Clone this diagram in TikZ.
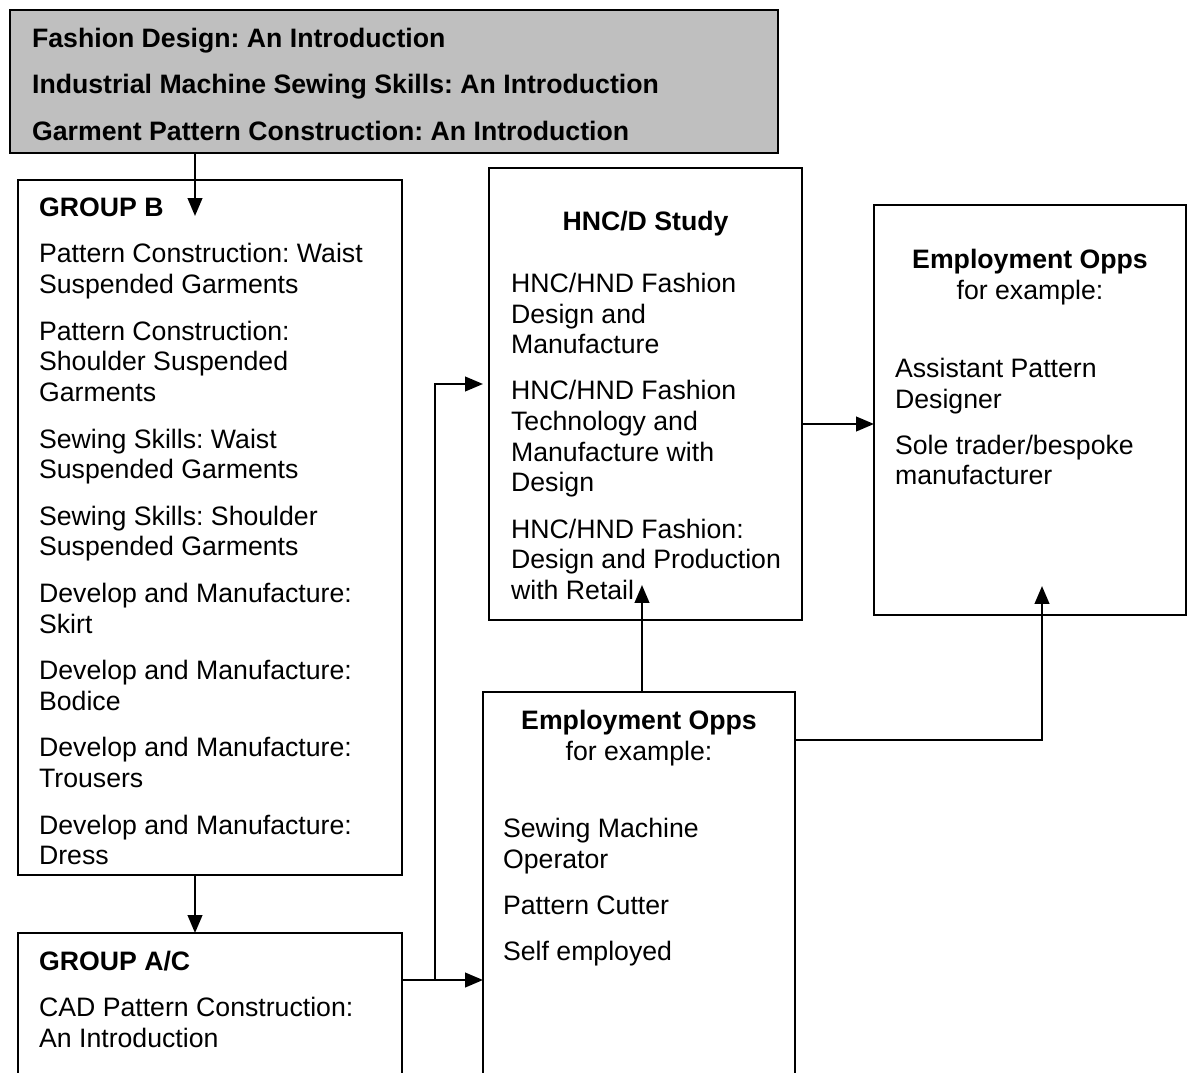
\documentclass[tikz,border=0pt]{standalone}
\usepackage{fontspec}
\setmainfont{Liberation Sans}
\usetikzlibrary{arrows.meta,calc}
\frenchspacing

\begin{document}
\begin{tikzpicture}[x=0.45pt, y=-0.45pt, >={Triangle[length=8pt,width=6.5pt]},
  line width=1pt, font=\fontsize{12}{13.8}\selectfont,
  box/.style={draw, rectangle, anchor=north west, inner sep=0pt, outer sep=0pt},
  txt/.style={anchor=north west, inner sep=0pt, align=left},
  head/.style={anchor=north, inner sep=0pt, align=center}]
\useasboundingbox (0,0) rectangle (1192,1073);
\clip (0,0) rectangle (1192,1073);
% boxes
\node[box, fill=black!25, minimum width=345.6pt, minimum height=64.35pt] (intro) at (10,10) {};
\node[box, minimum width=172.8pt, minimum height=312.75pt] (grpB) at (18,180) {};
\node[box, minimum width=172.8pt, minimum height=75pt] (grpAC) at (18,933) {};
\node[box, minimum width=140.85pt, minimum height=203.4pt] (hnc) at (489,168) {};
\node[box, minimum width=140.4pt, minimum height=184.5pt] (remp) at (874,205) {};
\node[box, minimum width=140.4pt, minimum height=183.6pt] (memp) at (483,692) {};
% box texts
\node[txt, font=\fontsize{12}{13.8}\selectfont\bfseries] (introtxt) at ($(intro.north west)+(21,17)$)
  {Fashion Design: An Introduction\\[7.1pt]
   Industrial Machine Sewing Skills: An Introduction\\[7.1pt]
   Garment Pattern Construction: An Introduction};
\node[txt] (grpBtxt) at ($(grpB.north west)+(20,17)$)
  {\textbf{GROUP B}\\[7pt]
   Pattern Construction: Waist\\Suspended Garments\\[7.15pt]
   Pattern Construction:\\Shoulder Suspended\\Garments\\[7.15pt]
   Sewing Skills: Waist\\Suspended Garments\\[7.15pt]
   Sewing Skills: Shoulder\\Suspended Garments\\[7.15pt]
   Develop and Manufacture:\\Skirt\\[7.15pt]
   Develop and Manufacture:\\Bodice\\[7.15pt]
   Develop and Manufacture:\\Trousers\\[7.15pt]
   Develop and Manufacture:\\Dress};
\node[txt] (grpACtxt) at ($(grpAC.north west)+(20,17)$)
  {\textbf{GROUP A/C}\\[7pt]
   CAD Pattern Construction:\\An Introduction};
\node[head] (hnchead) at ($(hnc.north)+(0,42)$) {\textbf{HNC/D Study}};
\node[txt] (hnctxt) at ($(hnc.north west)+(21,104)$)
  {HNC/HND Fashion\\Design and\\Manufacture\\[7pt]
   HNC/HND Fashion\\Technology and\\Manufacture with\\Design\\[7pt]
   HNC/HND Fashion:\\Design and Production\\with Retail};
\node[head] (remphead) at ($(remp.north)+(0,43)$) {\textbf{Employment Opps}\\for example:};
\node[txt] (remptxt) at ($(remp.north west)+(20,152)$)
  {Assistant Pattern\\Designer\\[7pt]
   Sole trader/bespoke\\manufacturer};
\node[head] (memphead) at ($(memp.north)+(0,17)$) {\textbf{Employment Opps}\\for example:};
\node[txt] (memptxt) at ($(memp.north west)+(19,125)$)
  {Sewing Machine\\Operator\\[7pt]
   Pattern Cutter\\[7pt]
   Self employed};
% connectors
\coordinate (tipB) at (195,216);
\coordinate (split) at (435,980);
\coordinate (hncin) at (483,384);
\coordinate (hncup) at (642,585);
\coordinate (rempup) at (1042,586);
\draw[->] (tipB |- intro.south) -- (tipB);
\draw[->] (tipB |- grpB.south) -- (tipB |- grpAC.north);
\draw (grpAC.east |- split) -- (split);
\draw[->] (split) -- (split -| memp.west);
\draw[->] (split) |- (hncin);
\draw[->] (hncup |- memp.north) -- (hncup);
\draw[->] (hnc.east |- 0,424) -- (remp.west |- 0,424);
\draw[->] (memp.east |- 0,740) -| (rempup);
\end{tikzpicture}
\end{document}
